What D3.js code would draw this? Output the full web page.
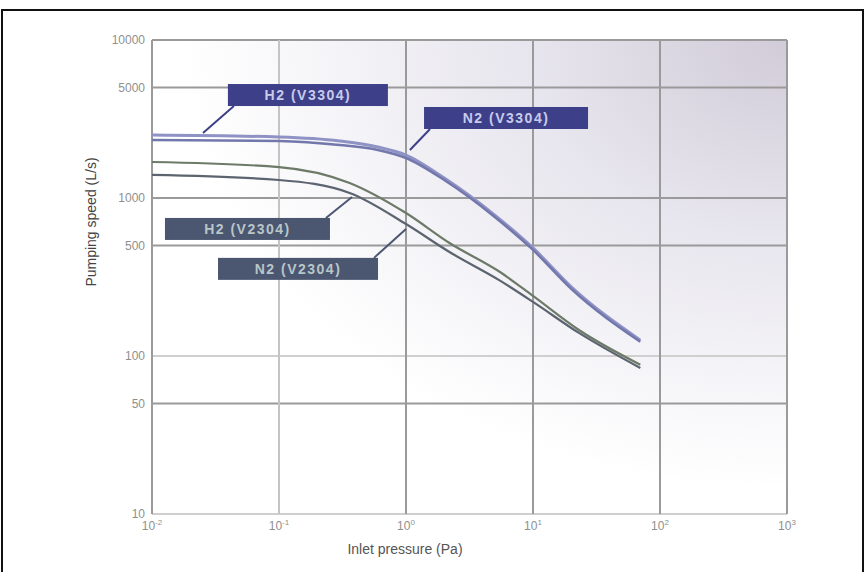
<!DOCTYPE html>
<html>
  <head>
    <meta charset="utf-8">
    <script src="https://d3js.org/d3.v7.min.js"></script>
    <style>
      body { margin: 0; background: #fff; }
      svg { display: block; font-family: "Liberation Sans", Arial, sans-serif; }
    </style>
  </head>
  <body>
    <div class="chart"></div>
    <script>
    // pressure (Pa) and pumping speed (L/s)
    var pressA = [0.01, 0.1, 0.3, 0.6, 1, 2, 5, 10, 20, 70];
    var speedH2big = [2506, 2432, 2296, 2103, 1871, 1339, 780, 483, 274, 126];
    var speedN2big = [2330, 2296, 2163, 2013, 1791, 1300, 759, 469, 266, 123];

    var pressB = [0.01, 0.1, 0.36, 1, 2.2, 5.5, 10, 23, 70];
    var speedH2small = [1690, 1570, 1245, 803, 519, 340, 240, 146, 88];
    var speedN2small = [1400, 1300, 1076, 684, 455, 300, 220, 140, 84];

    var yTicks = [10, 50, 100, 500, 1000, 5000, 10000];
    var xTicks = [0.01, 0.1, 1, 10, 100, 1000];
    var xTickExp = ["-2", "-1", "0", "1", "2", "3"];

    // label boxes: text, box (pressure, speed), leader target (pressure, speed)
    var labelText = ["H2 (V3304)", "N2 (V3304)", "H2 (V2304)", "N2 (V2304)"];
    var labelP = [0.0396, 1.387, 0.01265, 0.0331];
    var labelS = [4485, 3209, 637, 356];
    var leaderP = [0.0252, 1.074, 0.376, 1.0];
    var leaderS = [2577, 2013, 1015, 637];

    var series = [
      {p: pressA, s: speedH2big, color: "#8f92c4", w: 3},
      {p: pressA, s: speedN2big, color: "#7277ac", w: 2.5},
      {p: pressB, s: speedH2small, color: "#6d7a68", w: 2.2},
      {p: pressB, s: speedN2small, color: "#5c6470", w: 2.2}
    ];

    var width = 866, height = 572;
    var svg = d3.select(".chart").append("svg").attr("width", width).attr("height", height);

    var x = d3.scaleLog().domain([0.01, 1000]).range([152, 787]);
    var y = d3.scaleLog().domain([10, 10000]).range([514, 40]);

    // outer frame
    svg.append("rect").attr("x", 2).attr("y", 10).attr("width", 861).attr("height", 575)
      .attr("fill", "none").attr("stroke", "#111").attr("stroke-width", 2);

    var defs = svg.append("defs");
    var grad = defs.append("radialGradient").attr("id", "bg")
      .attr("cx", "100%").attr("cy", "0%").attr("r", "95%");
    grad.append("stop").attr("offset", "0%").attr("stop-color", "#d1ccd8");
    grad.append("stop").attr("offset", "45%").attr("stop-color", "#e8e6ee");
    grad.append("stop").attr("offset", "100%").attr("stop-color", "#ffffff");

    svg.append("rect").attr("x", x(0.01)).attr("y", y(10000))
      .attr("width", x(1000) - x(0.01)).attr("height", y(10) - y(10000))
      .attr("fill", "url(#bg)");

    // grid
    svg.append("g").selectAll("line").data(yTicks).enter().append("line")
      .attr("x1", x(0.01)).attr("x2", x(1000))
      .attr("y1", function(d) { return y(d); }).attr("y2", function(d) { return y(d); })
      .attr("stroke", function(d) { return (d == 100 || d == 10) ? "#cfcfcf" : "#9a9a9a"; })
      .attr("stroke-width", 2);

    svg.append("g").selectAll("line").data(xTicks).enter().append("line")
      .attr("y1", y(10)).attr("y2", y(10000))
      .attr("x1", function(d) { return x(d); }).attr("x2", function(d) { return x(d); })
      .attr("stroke", function(d) { return d == 0.1 ? "#c4c4c4" : "#9a9a9a"; })
      .attr("stroke-width", 2);

    // tick labels
    svg.append("g").selectAll("text").data(yTicks).enter().append("text")
      .attr("x", 145).attr("y", function(d) { return y(d) + 4; })
      .attr("text-anchor", "end").attr("font-size", 12).attr("fill", "#8f8f8f")
      .text(function(d) { return d; });

    var xt = svg.append("g").selectAll("text").data(xTicks).enter().append("text")
      .attr("x", function(d) { return x(d); }).attr("y", 530)
      .attr("text-anchor", "middle").attr("font-size", 12).attr("fill", "#8f8f8f");
    xt.append("tspan").text("10");
    xt.append("tspan").attr("dy", -5).attr("font-size", 8)
      .text(function(d, i) { return xTickExp[i]; });

    // axis titles
    svg.append("text").attr("transform", "translate(96,222) rotate(-90)")
      .attr("text-anchor", "middle").attr("font-size", 14).attr("fill", "#444")
      .text("Pumping speed (L/s)");
    svg.append("text").attr("x", 405).attr("y", 554)
      .attr("text-anchor", "middle").attr("font-size", 14).attr("fill", "#555")
      .text("Inlet pressure (Pa)");

    // curves
    var line = d3.line()
      .x(function(d) { return x(d[0]); })
      .y(function(d) { return y(d[1]); })
      .curve(d3.curveMonotoneX);

    svg.append("g").selectAll("path").data(series).enter().append("path")
      .attr("d", function(d) { return line(d.p.map(function(v, i) { return [v, d.s[i]]; })); })
      .attr("fill", "none")
      .attr("stroke", function(d) { return d.color; })
      .attr("stroke-width", function(d) { return d.w; });

    // labels with leader lines
    var boxW = [160, 164, 165, 160], boxH = 22;
    var boxFill = ["#3d4088", "#3d4088", "#4b5670", "#4b5670"];
    var textFill = ["#c9cbeb", "#c9cbeb", "#b9c6c8", "#b9c6c8"];
    var leaderFromRight = [false, false, true, true];

    var lab = svg.append("g").selectAll("g").data(labelText).enter().append("g");

    lab.append("line")
      .attr("x1", function(d, i) { return leaderFromRight[i] ? x(labelP[i]) + boxW[i] - 4 : x(labelP[i]) + 6; })
      .attr("y1", function(d, i) { return leaderFromRight[i] ? y(labelS[i]) - boxH / 2 : y(labelS[i]) + boxH / 2; })
      .attr("x2", function(d, i) { return x(leaderP[i]); })
      .attr("y2", function(d, i) { return y(leaderS[i]); })
      .attr("stroke", function(d, i) { return boxFill[i]; })
      .attr("stroke-width", 2);

    lab.append("rect")
      .attr("x", function(d, i) { return x(labelP[i]); })
      .attr("y", function(d, i) { return y(labelS[i]) - boxH / 2; })
      .attr("width", function(d, i) { return boxW[i]; })
      .attr("height", boxH)
      .attr("fill", function(d, i) { return boxFill[i]; });

    lab.append("text")
      .attr("x", function(d, i) { return x(labelP[i]) + boxW[i] / 2; })
      .attr("y", function(d, i) { return y(labelS[i]) + 5; })
      .attr("text-anchor", "middle").attr("font-size", 14).attr("font-weight", "bold")
      .attr("letter-spacing", 1.5)
      .attr("fill", function(d, i) { return textFill[i]; })
      .text(function(d) { return d; });
    </script>
  </body>
</html>
